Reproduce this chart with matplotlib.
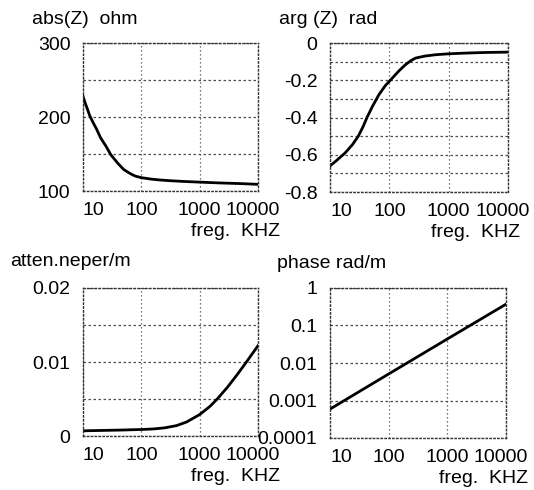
import matplotlib
matplotlib.use("Agg")
import matplotlib.pyplot as plt
from matplotlib.ticker import FixedLocator, FixedFormatter, LogLocator, NullFormatter
from matplotlib.transforms import ScaledTranslation

plt.rcParams['font.family'] = ['Liberation Sans', 'DejaVu Sans']
plt.rcParams['axes.unicode_minus'] = False

# ---- data ----
freq_abs = [10, 11, 12, 13, 15, 17, 20, 25, 30, 40, 50, 60, 70, 80, 100, 150, 200, 300, 500,
            1000, 2000, 5000, 10000]
abs_z = [228, 218, 210, 202, 192, 184, 172, 160, 149, 137, 129, 125, 122, 120, 118, 116, 115,
         114, 113, 112, 111, 110, 109]

freq_arg = [10, 13, 18, 24, 30, 36, 42, 52, 66, 85, 111, 145, 186, 230, 276, 400, 600, 1000,
            2000, 4000, 10000]
arg_z = [-0.66, -0.63, -0.59, -0.545, -0.50, -0.45, -0.40, -0.34, -0.28, -0.23, -0.19, -0.15,
         -0.117, -0.095, -0.081, -0.070, -0.063, -0.058, -0.054, -0.051, -0.049]

freq_att = [10, 43, 100, 160, 250, 400, 600, 1000, 1500, 2000, 3000, 4500, 6600, 10000]
atten = [0.0007, 0.0008, 0.00088, 0.00095, 0.0011, 0.0014, 0.0019, 0.0029, 0.0040, 0.0050,
         0.0066, 0.0084, 0.0102, 0.0122]

freq_ph = [10, 100, 1000, 10000]
phase = [0.00059, 0.0051, 0.0437, 0.37]

x_ticks = [10, 100, 1000, 10000]
x_labels = ['10', '100', '1000', '10000']

titles = ['abs(Z)  ohm', 'arg (Z)  rad', 'atten.neper/m', 'phase rad/m']
xlabel = 'freg.  KHZ'

fig = plt.figure(figsize=(5.34, 4.90), dpi=100)
W, H = 534.0, 490.0

def rect(l, r, t, b):
    return [l / W, 1 - b / H, (r - l) / W, (b - t) / H]

ax1 = fig.add_axes(rect(83, 258, 43, 191))
ax2 = fig.add_axes(rect(330, 508, 43, 192))
ax3 = fig.add_axes(rect(83, 258, 288, 436))
ax4 = fig.add_axes(rect(330, 506, 288, 438))

FS = 14
grid_kw = dict(color='0.3', linewidth=0.9, linestyle=(0, (1, 2.2)))
major_kw = dict(color='0.3', linewidth=0.9, linestyle=(0, (2, 2)))

def style(ax, label_dx):
    ax.set_xscale('log')
    ax.set_xlim(10, 10000)
    ax.xaxis.set_major_locator(FixedLocator(x_ticks))
    ax.xaxis.set_major_formatter(FixedFormatter(x_labels))
    ax.xaxis.set_minor_locator(LogLocator(base=10, subs=(2, 3, 4, 5)))
    ax.xaxis.set_minor_formatter(NullFormatter())
    ax.tick_params(axis='both', which='both', length=0, labelsize=FS)
    ax.tick_params(axis='x', pad=8)
    ax.tick_params(axis='y', pad=9)
    ax.grid(True, which='both', axis='x', **grid_kw)
    ax.grid(True, which='major', axis='y', **major_kw)
    for s in ax.spines.values():
        s.set_linestyle((0, (1, 1.8)))
        s.set_linewidth(1.0)
        s.set_color('0.2')
    ax.set_axisbelow(True)
    bb = ax.get_position()
    ax.text(1 + label_dx / (bb.width * W), -32 / (bb.height * H), xlabel, fontsize=FS,
            transform=ax.transAxes, ha='right', va='top')

for ax, dx in ((ax1, 22), (ax2, 12), (ax3, 22), (ax4, 22)):
    style(ax, dx)

lw = 2.0
ax1.plot(freq_abs, abs_z, color='black', lw=lw)
ax1.set_ylim(100, 300)
ax1.yaxis.set_major_locator(FixedLocator([100, 150, 200, 250, 300]))
ax1.yaxis.set_major_formatter(FixedFormatter(['100', '', '200', '', '300']))

ax2.plot(freq_arg, arg_z, color='black', lw=lw)
ax2.set_ylim(-0.8, 0)
ax2.yaxis.set_major_locator(FixedLocator([-0.8, -0.7, -0.6, -0.5, -0.4, -0.3, -0.2, -0.1, 0]))
ax2.yaxis.set_major_formatter(FixedFormatter(['-0.8', '', '-0.6', '', '-0.4', '', '-0.2', '', '0']))

ax3.plot(freq_att, atten, color='black', lw=lw)
ax3.set_ylim(0, 0.02)
ax3.yaxis.set_major_locator(FixedLocator([0, 0.005, 0.01, 0.015, 0.02]))
ax3.yaxis.set_major_formatter(FixedFormatter(['0', '', '0.01', '', '0.02']))

ax4.plot(freq_ph, phase, color='black', lw=lw)
ax4.set_yscale('log')
ax4.set_ylim(0.0001, 1)
ax4.yaxis.set_major_locator(FixedLocator([0.0001, 0.001, 0.01, 0.1, 1]))
ax4.yaxis.set_major_formatter(FixedFormatter(['0.0001', '0.001', '0.01', '0.1', '1']))
ax4.yaxis.set_minor_locator(LogLocator(base=10, subs=(2, 3, 5)))
ax4.yaxis.set_minor_formatter(NullFormatter())
ax4.grid(True, which='minor', axis='y', **grid_kw)

# nudge first / last x tick labels like the reference
for ax in (ax1, ax2, ax3, ax4):
    labs = ax.xaxis.get_majorticklabels()
    labs[0].set_horizontalalignment('left')
    labs[-1].set_transform(labs[-1].get_transform() +
                           ScaledTranslation(-5 / 100, 0, fig.dpi_scale_trans))

fig.text(32 / W, 1 - 20 / H, titles[0], fontsize=FS, va='center', ha='left')
fig.text(279 / W, 1 - 20 / H, titles[1], fontsize=FS, va='center', ha='left')
fig.text(10 / W, 1 - 262 / H, titles[2], fontsize=FS, va='center', ha='left')
fig.text(277 / W, 1 - 264 / H, titles[3], fontsize=FS, va='center', ha='left')

fig.savefig('out.png', dpi=100)
